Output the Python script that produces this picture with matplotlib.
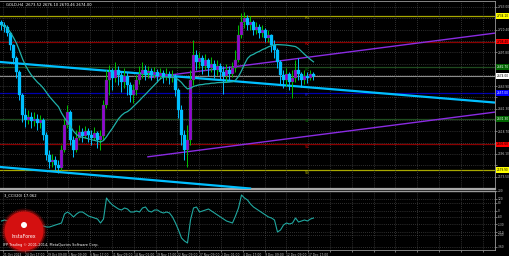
import matplotlib
matplotlib.use("Agg")
import matplotlib.pyplot as plt
import numpy as np
import pandas as pd
from matplotlib.patches import Circle

# GOLD H4 candles (open of each bar = previous close)
first_open = 2728.0
closes = [2725, 2723, 2717, 2705, 2692, 2678, 2655, 2635, 2630, 2633,
          2629, 2631, 2627, 2630, 2615, 2595, 2588, 2590, 2585, 2582,
          2600, 2625, 2638, 2610, 2600, 2612, 2618, 2614, 2619, 2615,
          2612, 2617, 2610, 2614, 2645, 2670, 2678, 2672, 2680, 2675,
          2668, 2674, 2665, 2655, 2660, 2670, 2676, 2680, 2677, 2679,
          2675, 2678, 2674, 2677, 2673, 2676, 2672, 2674, 2660, 2640,
          2615, 2600, 2610, 2670, 2695, 2688, 2692, 2684, 2690, 2682,
          2686, 2680, 2684, 2678, 2674, 2680, 2676, 2682, 2690, 2715,
          2728, 2732, 2725, 2728, 2720, 2723, 2717, 2720, 2712, 2715,
          2705, 2700, 2688, 2675, 2670, 2676, 2668, 2672, 2680, 2676,
          2670, 2674, 2672, 2676, 2674]
highs = [2730, 2728, 2725, 2718, 2706, 2694, 2680, 2657, 2642, 2640,
         2638, 2638, 2636, 2635, 2632, 2618, 2600, 2596, 2594, 2590,
         2605, 2632, 2645, 2640, 2614, 2620, 2625, 2622, 2624, 2622,
         2620, 2623, 2619, 2620, 2650, 2680, 2685, 2682, 2688, 2684,
         2678, 2682, 2678, 2668, 2666, 2675, 2684, 2688, 2685, 2684,
         2682, 2683, 2681, 2682, 2680, 2682, 2679, 2680, 2676, 2662,
         2645, 2620, 2625, 2680, 2710, 2700, 2698, 2695, 2696, 2692,
         2693, 2690, 2690, 2687, 2684, 2686, 2684, 2688, 2700, 2725,
         2737, 2738, 2735, 2734, 2730, 2728, 2726, 2725, 2722, 2720,
         2716, 2710, 2702, 2690, 2680, 2682, 2678, 2680, 2690, 2692,
         2678, 2680, 2678, 2680, 2678]
lows = [2720, 2718, 2714, 2700, 2688, 2672, 2650, 2628, 2623, 2626,
        2622, 2624, 2620, 2622, 2610, 2590, 2582, 2583, 2580, 2577,
        2580, 2598, 2622, 2605, 2593, 2598, 2610, 2608, 2612, 2608,
        2605, 2610, 2602, 2600, 2610, 2642, 2655, 2660, 2668, 2665,
        2658, 2662, 2655, 2648, 2647, 2655, 2666, 2672, 2670, 2672,
        2670, 2672, 2668, 2671, 2667, 2670, 2666, 2668, 2654, 2632,
        2605, 2590, 2583, 2605, 2665, 2680, 2682, 2676, 2680, 2674,
        2678, 2672, 2675, 2670, 2656, 2668, 2670, 2673, 2678, 2688,
        2712, 2722, 2720, 2720, 2715, 2716, 2712, 2713, 2708, 2708,
        2698, 2692, 2682, 2666, 2662, 2664, 2660, 2652, 2668, 2670,
        2663, 2666, 2667, 2670, 2670]

# CCI(20) sub window
cci = [-100, -90, -100, -110, -110, -120, -120, -130, -120, -130,
       -130, -140, -140, -150, -150, -160, -160, -150, -140, -130,
       -120, -30, -10, -30, -60, -30, -10, -10, -30, -50,
       -60, -70, -80, -120, -80, 130, 90, 60, 40, 20,
       10, 30, 20, -10, -10, 0, -10, 30, 40, 0,
       -10, 10, 10, -10, -20, -10, -20, -60, -120, -190,
       -270, -300, -320, -90, 30, 40, -10, 0, 10, 20,
       0, -20, -40, -60, -80, -100, -110, -120, -50, 30,
       160, 130, 110, 70, 40, 20, 0, -20, -40, -60,
       -70, -90, -210, -190, -140, -120, -130, -120, -70, -110,
       -100, -90, -100, -80, -70]
cci_levels = [200, 120, 80, 0, -60, -130, -210, -240, -360]

# pivot style levels
level_prices = [2734.1, 2708.4, 2682.7, 2657.0, 2631.3, 2605.6, 2579.9]
level_names = ["R3", "R2", "R1", "PP", "S1", "S2", "S3"]
level_kinds = ["yellow", "red", "green", "blue", "green", "red", "yellow"]
bid_price = 2674.0

# trend lines, (bar, price) anchors
cyan_upper = [(0, 2687.9), (100, 2663.3)]
cyan_lower = [(0, 2582.9), (60, 2567.4)]
purple_upper = [(49.5, 2672.4), (164.5, 2716.9)]
purple_lower = [(48.8, 2593.2), (164.5, 2637.9)]

price_ticks = [2743.0, 2731.7, 2720.4, 2709.1, 2697.8, 2686.5, 2675.2, 2663.9,
               2652.6, 2641.3, 2630.0, 2618.7, 2607.4, 2596.1, 2584.8, 2573.5]
time_labels = ["21 Oct 2024", "24 Oct 17:00", "29 Oct 09:00", "1 Nov 09:00",
               "6 Nov 17:00", "11 Nov 09:00", "14 Nov 01:00", "19 Nov 17:00",
               "22 Nov 09:00", "27 Nov 09:00", "2 Dec 01:00", "4 Dec 17:00",
               "9 Dec 09:00", "12 Dec 09:00", "17 Dec 17:00"]

colors = {
    "yellow": ("#a8a800", "#ffff00", "black", "#b8b800"),
    "red": ("#8b0000", "#ff0000", "black", "#d00000"),
    "green": ("#1f4a1f", "#006400", "white", "#007000"),
    "blue": ("#0000b0", "#0000ff", "white", "#2020e0"),
}

FS = 2.7
AXFS = 2.1
GRID = "#5c5c5c"
FRAME = "#9a9a9a"


def main():
    fig = plt.figure(figsize=(5.1, 2.56), dpi=100)
    fig.patch.set_facecolor("black")
    ax = fig.add_axes([0, 1 - 188.5 / 256, 495 / 510, 187.5 / 256])
    ax2 = fig.add_axes([0, 1 - 250 / 256, 495 / 510, 59 / 256], sharex=ax)

    c = np.array(closes, dtype=float)
    h = np.array(highs, dtype=float)
    lo = np.array(lows, dtype=float)
    o = np.r_[first_open, c[:-1]]
    x = np.arange(len(c))
    up = c >= o

    for a in (ax, ax2):
        a.set_facecolor("black")
        for s in a.spines.values():
            s.set_color(FRAME)
            s.set_linewidth(0.6)
        a.spines["left"].set_visible(False)

    grid_pos = np.arange(0.5, 165, 7.267)
    ax.set_xlim(-0.5, 164.5)
    ax.set_ylim(2561.5, 2749)
    ax.set_xticks(grid_pos)
    ax.tick_params(axis="x", bottom=False, labelbottom=False)
    ax.yaxis.tick_right()
    # price labels hidden where a level box sits on the scale
    marks = level_prices + [bid_price]
    shown = [f"{t:.2f}" if min(abs(t - m) for m in marks) > 5 else ""
             for t in price_ticks]
    ax.set_yticks(price_ticks, shown)
    ax.tick_params(axis="y", labelsize=AXFS, colors="#c8c8c8", length=1.2,
                   width=0.4, pad=0.6)
    ax.grid(True, color=GRID, ls=(0, (1, 2)), lw=0.5)
    ax.spines["bottom"].set_linewidth(1.6)
    ax.spines["bottom"].set_color("#a8a8a8")

    # levels
    for p, name, kind in zip(level_prices, level_names, level_kinds):
        line_c, box_c, box_t, txt_c = colors[kind]
        ax.axhline(p, color=line_c, lw=0.9, zorder=1)
        ax.text(101, p - 2.5, name, color=txt_c, fontsize=FS, va="center",
                zorder=2)
        ax.text(1.003, p, f"{p:.2f}", transform=ax.get_yaxis_transform(),
                color=box_t, fontsize=AXFS, va="center", ha="left", clip_on=False,
                zorder=10, bbox=dict(boxstyle="square,pad=0.3", fc=box_c,
                                     ec="none"))
    ax.axhline(bid_price, color="#8c8c8c", lw=0.8, zorder=1)
    ax.text(1.003, bid_price, f"{bid_price:.2f}", transform=ax.get_yaxis_transform(),
            color="black", fontsize=AXFS, va="center", ha="left", clip_on=False,
            zorder=10, bbox=dict(boxstyle="square,pad=0.3", fc="white", ec="none"))

    # trend lines
    ax.axline(cyan_upper[0], cyan_upper[1], color="#00bfff", lw=1.6, zorder=3)
    ax.axline(cyan_lower[0], cyan_lower[1], color="#00bfff", lw=1.6, zorder=3)
    for seg in (purple_upper, purple_lower):
        ax.plot([seg[0][0], seg[1][0]], [seg[0][1], seg[1][1]],
                color="#8a2be2", lw=1.0, zorder=3)

    # candles
    ax.vlines(x[up], lo[up], h[up], color="#00c000", lw=0.7, zorder=4)
    ax.vlines(x[~up], lo[~up], h[~up], color="#00bfff", lw=0.7, zorder=4)
    ax.bar(x[up], (c - o)[up], bottom=o[up], width=0.85, color="#9400d3",
           edgecolor="#00b000", lw=0.2, zorder=5)
    ax.bar(x[~up], (c - o)[~up], bottom=o[~up], width=0.85, color="#00bfff",
           edgecolor="#00bfff", lw=0.2, zorder=5)

    ma = pd.Series(c).rolling(20, min_periods=1).mean()
    ax.plot(x, ma, color="#20b2aa", lw=0.9, zorder=6)

    ax.text(0.012, 0.992, "GOLD,H4  2673.52 2676.10 2670.46 2674.00",
            transform=ax.transAxes, color="white", fontsize=FS, va="top")

    # CCI window
    ax2.set_ylim(-390, 200)
    ax2.yaxis.tick_right()
    ax2.set_yticks(cci_levels, [str(v) for v in cci_levels])
    ax2.tick_params(axis="y", labelsize=AXFS, colors="#c8c8c8", length=1.2,
                    width=0.4, pad=0.6)
    ax2.set_xticks(grid_pos, time_labels + [""] * (len(grid_pos) - len(time_labels)))
    ax2.tick_params(axis="x", labelsize=2.2, colors="#c8c8c8", length=1.5,
                    width=0.4, pad=0.8)
    for lbl in ax2.get_xticklabels():
        lbl.set_ha("left")
    ax2.grid(True, color=GRID, ls=(0, (1, 2)), lw=0.5)
    ax2.spines["top"].set_linewidth(1.0)
    ax2.plot(x, cci, color="#20a8a0", lw=0.8, zorder=4)
    ax2.text(0.008, 0.96, "3_CCI(20) 17.062", transform=ax2.transAxes,
             color="white", fontsize=FS, va="top")

    # logo
    for r, al in [(0.225, 0.2), (0.21, 0.45), (0.195, 1.0)]:
        fig.add_artist(Circle((0.24, 0.25), r, transform=fig.dpi_scale_trans,
                              color="#d41010", alpha=al, lw=0, zorder=20))
    fig.add_artist(Circle((0.24, 0.31), 0.03, transform=fig.dpi_scale_trans,
                          color="white", lw=0, zorder=21))
    fig.text(24 / 510, 1 - 236 / 256, "InstaForex", color="white", fontsize=3.4,
             ha="center", va="center", zorder=22)
    fig.text(3 / 510, 1 - 245 / 256, "IFP Trading \u00a9 2001-2014, MetaQuotes Software Corp.",
             color="white", fontsize=2.5, ha="left", va="center", zorder=22)

    fig.savefig("out.png", dpi=100, facecolor="black")


if __name__ == "__main__":
    main()
